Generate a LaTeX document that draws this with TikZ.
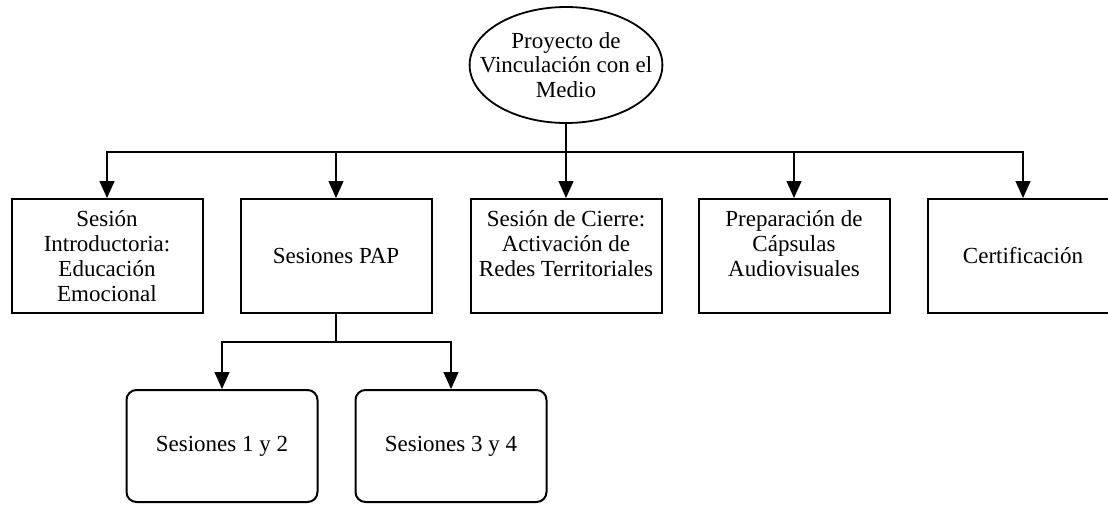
\documentclass[tikz,border=0pt]{standalone}
\usepackage{fontspec}
\setmainfont{Liberation Serif}
\usetikzlibrary{shapes.geometric,arrows.meta}
\tikzset{
  box/.style={draw, line width=1pt, minimum width=95.5pt, minimum height=57pt,
    align=center, inner sep=2pt, font=\fontsize{11.5}{12.4}\selectfont},
  rbox/.style={box, rounded corners=5pt, minimum height=56pt},
  oval/.style={draw, ellipse, line width=0.9pt, minimum width=96pt, minimum height=58pt,
    inner xsep=-9pt, inner ysep=1pt, align=center, font=\fontsize{11.5}{12.2}\selectfont},
  link/.style={line width=0.6pt},
  arr/.style={link, -{Triangle[width=7.5pt,length=8.5pt]}},
}
\begin{document}
\begin{tikzpicture}[x=0.5pt,y=-0.5pt]
\clip (0,0) rectangle (1108,504);
% raiz
\node[oval] (root) at (566,65) {Proyecto de\\Vinculación con el\\Medio};
% primer nivel
\node[box] (intro) at (107,256) {Sesión\\Introductoria:\\Educación\\Emocional};
\node[box] (pap) at (336,256) {Sesiones PAP};
\node[box] (cierre) at (566,256) {Sesión de Cierre:\\Activación de\\Redes Territoriales\\\mbox{}};
\node[box] (capsulas) at (794,256) {Preparación de\\Cápsulas\\Audiovisuales\\\mbox{}};
\node[box] (cert) at (1023,256) {Certificación};
% segundo nivel
\node[rbox] (ses12) at (222,446) {Sesiones 1 y 2};
\node[rbox] (ses34) at (451,446) {Sesiones 3 y 4};
% conectores
\coordinate (bus) at (566,152);
\draw[link] (root.south) -- (bus);
\foreach \n in {intro,pap,cierre,capsulas,cert}
  \draw[arr] (bus) -| (\n.north);
\coordinate (papbus) at (336,342);
\draw[link] (pap.south) -- (papbus);
\draw[arr] (papbus) -| (ses12.north);
\draw[arr] (papbus) -| (ses34.north);
\end{tikzpicture}
\end{document}
